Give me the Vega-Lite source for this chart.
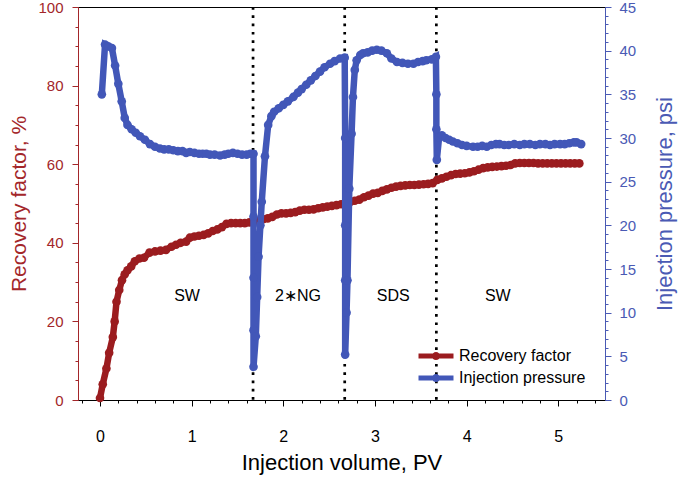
{
  "$schema": "https://vega.github.io/schema/vega-lite/v6.json",
  "autosize": {"type": "none"},
  "padding": {"left": 78, "top": 7, "right": 80, "bottom": 79},
  "width": 527,
  "height": 393,
  "background": "white",
  "config": {
    "font": "Liberation Sans",
    "view": {"stroke": "black", "strokeWidth": 1},
    "axis": {"grid": false, "titleFontWeight": "normal", "labelFont": "Liberation Sans", "titleFont": "Liberation Sans"}
  },
  "datasets": {
    "rf": [
      {"pv": 0.00, "rf": 0.5}, {"pv": 0.03, "rf": 4}, {"pv": 0.07, "rf": 8}, {"pv": 0.10, "rf": 12},
      {"pv": 0.14, "rf": 16}, {"pv": 0.16, "rf": 20}, {"pv": 0.18, "rf": 25}, {"pv": 0.21, "rf": 28},
      {"pv": 0.24, "rf": 30.5}, {"pv": 0.27, "rf": 32}, {"pv": 0.30, "rf": 33}, {"pv": 0.34, "rf": 34},
      {"pv": 0.38, "rf": 35.3}, {"pv": 0.43, "rf": 36}, {"pv": 0.48, "rf": 36.2}, {"pv": 0.54, "rf": 37.5},
      {"pv": 0.60, "rf": 37.8}, {"pv": 0.66, "rf": 38}, {"pv": 0.72, "rf": 38.2}, {"pv": 0.78, "rf": 39},
      {"pv": 0.83, "rf": 39.5}, {"pv": 0.88, "rf": 40}, {"pv": 0.94, "rf": 40.3}, {"pv": 0.98, "rf": 41.3},
      {"pv": 1.03, "rf": 41.6}, {"pv": 1.08, "rf": 41.8}, {"pv": 1.13, "rf": 42}, {"pv": 1.18, "rf": 42.4},
      {"pv": 1.23, "rf": 43}, {"pv": 1.28, "rf": 43.4}, {"pv": 1.33, "rf": 44}, {"pv": 1.38, "rf": 44.8},
      {"pv": 1.43, "rf": 45}, {"pv": 1.48, "rf": 45}, {"pv": 1.53, "rf": 45}, {"pv": 1.58, "rf": 45},
      {"pv": 1.63, "rf": 45.2}, {"pv": 1.68, "rf": 45.5}, {"pv": 1.73, "rf": 45.6}, {"pv": 1.78, "rf": 46},
      {"pv": 1.83, "rf": 46.2}, {"pv": 1.88, "rf": 46.6}, {"pv": 1.93, "rf": 47.2}, {"pv": 1.98, "rf": 47.5},
      {"pv": 2.03, "rf": 47.5}, {"pv": 2.08, "rf": 47.6}, {"pv": 2.13, "rf": 47.8}, {"pv": 2.18, "rf": 48.2},
      {"pv": 2.23, "rf": 48.4}, {"pv": 2.28, "rf": 48.4}, {"pv": 2.33, "rf": 48.5}, {"pv": 2.38, "rf": 48.8},
      {"pv": 2.43, "rf": 49}, {"pv": 2.48, "rf": 49.2}, {"pv": 2.53, "rf": 49.4}, {"pv": 2.58, "rf": 49.6},
      {"pv": 2.63, "rf": 49.8}, {"pv": 2.68, "rf": 50.2}, {"pv": 2.73, "rf": 50.4}, {"pv": 2.78, "rf": 50.7},
      {"pv": 2.83, "rf": 51}, {"pv": 2.88, "rf": 51.6}, {"pv": 2.93, "rf": 52}, {"pv": 2.98, "rf": 52.5},
      {"pv": 3.03, "rf": 52.7}, {"pv": 3.08, "rf": 53.2}, {"pv": 3.13, "rf": 53.6}, {"pv": 3.18, "rf": 54},
      {"pv": 3.23, "rf": 54.3}, {"pv": 3.28, "rf": 54.5}, {"pv": 3.33, "rf": 54.6}, {"pv": 3.38, "rf": 54.7},
      {"pv": 3.43, "rf": 54.7}, {"pv": 3.48, "rf": 54.8}, {"pv": 3.53, "rf": 54.9}, {"pv": 3.58, "rf": 55},
      {"pv": 3.63, "rf": 55.2}, {"pv": 3.68, "rf": 56}, {"pv": 3.73, "rf": 56.4}, {"pv": 3.78, "rf": 56.8},
      {"pv": 3.83, "rf": 57.2}, {"pv": 3.88, "rf": 57.5}, {"pv": 3.93, "rf": 57.6}, {"pv": 3.98, "rf": 57.7},
      {"pv": 4.03, "rf": 57.9}, {"pv": 4.08, "rf": 58.2}, {"pv": 4.13, "rf": 58.6}, {"pv": 4.18, "rf": 59},
      {"pv": 4.23, "rf": 59.2}, {"pv": 4.28, "rf": 59.3}, {"pv": 4.33, "rf": 59.4}, {"pv": 4.38, "rf": 59.5},
      {"pv": 4.43, "rf": 59.6}, {"pv": 4.48, "rf": 59.8}, {"pv": 4.53, "rf": 60.2}, {"pv": 4.58, "rf": 60.3},
      {"pv": 4.63, "rf": 60.3}, {"pv": 4.68, "rf": 60.3}, {"pv": 4.73, "rf": 60.3}, {"pv": 4.78, "rf": 60.2},
      {"pv": 4.83, "rf": 60.2}, {"pv": 4.88, "rf": 60.2}, {"pv": 4.93, "rf": 60.2}, {"pv": 4.98, "rf": 60.2},
      {"pv": 5.03, "rf": 60.2}, {"pv": 5.08, "rf": 60.2}, {"pv": 5.13, "rf": 60.2}, {"pv": 5.18, "rf": 60.2},
      {"pv": 5.23, "rf": 60.2}
    ],
    "ip": [
      {"i": 1, "pv": 0.02, "p": 35.0}, {"i": 2, "pv": 0.055, "p": 40.7}, {"i": 3, "pv": 0.09, "p": 40.5},
      {"i": 4, "pv": 0.13, "p": 40.3}, {"i": 5, "pv": 0.165, "p": 38.3}, {"i": 6, "pv": 0.2, "p": 36.2},
      {"i": 7, "pv": 0.237, "p": 34.2}, {"i": 8, "pv": 0.27, "p": 32.3}, {"i": 9, "pv": 0.3, "p": 31.5},
      {"i": 10, "pv": 0.345, "p": 31.0}, {"i": 11, "pv": 0.39, "p": 30.6}, {"i": 12, "pv": 0.436, "p": 30.2},
      {"i": 13, "pv": 0.49, "p": 29.8}, {"i": 14, "pv": 0.545, "p": 29.3}, {"i": 15, "pv": 0.6, "p": 29.0},
      {"i": 16, "pv": 0.654, "p": 28.8}, {"i": 17, "pv": 0.7, "p": 28.7}, {"i": 18, "pv": 0.75, "p": 28.7},
      {"i": 19, "pv": 0.8, "p": 28.6}, {"i": 20, "pv": 0.85, "p": 28.5}, {"i": 21, "pv": 0.9, "p": 28.5},
      {"i": 22, "pv": 0.94, "p": 28.3}, {"i": 23, "pv": 0.98, "p": 28.4}, {"i": 24, "pv": 1.03, "p": 28.3},
      {"i": 25, "pv": 1.08, "p": 28.2}, {"i": 26, "pv": 1.12, "p": 28.2}, {"i": 27, "pv": 1.16, "p": 28.2},
      {"i": 28, "pv": 1.2, "p": 28.1}, {"i": 29, "pv": 1.25, "p": 28.1}, {"i": 30, "pv": 1.31, "p": 28.0},
      {"i": 31, "pv": 1.36, "p": 28.1}, {"i": 32, "pv": 1.4, "p": 28.2}, {"i": 33, "pv": 1.45, "p": 28.3},
      {"i": 34, "pv": 1.5, "p": 28.2}, {"i": 35, "pv": 1.55, "p": 28.1}, {"i": 36, "pv": 1.6, "p": 28.1},
      {"i": 37, "pv": 1.64, "p": 28.2}, {"i": 38, "pv": 1.675, "p": 28.2}, {"i": 39, "pv": 1.675, "p": 21},
      {"i": 40, "pv": 1.675, "p": 14}, {"i": 41, "pv": 1.675, "p": 8}, {"i": 42, "pv": 1.675, "p": 3.8},
      {"i": 43, "pv": 1.7, "p": 7.3}, {"i": 44, "pv": 1.715, "p": 11.8}, {"i": 45, "pv": 1.73, "p": 16.4},
      {"i": 46, "pv": 1.75, "p": 20.0}, {"i": 47, "pv": 1.765, "p": 22.7}, {"i": 48, "pv": 1.8, "p": 27.9},
      {"i": 49, "pv": 1.835, "p": 31.5}, {"i": 50, "pv": 1.87, "p": 32.5}, {"i": 51, "pv": 1.9, "p": 33.0},
      {"i": 52, "pv": 1.95, "p": 33.4}, {"i": 53, "pv": 2.0, "p": 33.8}, {"i": 54, "pv": 2.05, "p": 34.2},
      {"i": 55, "pv": 2.11, "p": 34.7}, {"i": 56, "pv": 2.16, "p": 35.2}, {"i": 57, "pv": 2.2, "p": 35.6},
      {"i": 58, "pv": 2.25, "p": 36.1}, {"i": 59, "pv": 2.3, "p": 36.6}, {"i": 60, "pv": 2.35, "p": 37.1},
      {"i": 61, "pv": 2.4, "p": 37.6}, {"i": 62, "pv": 2.45, "p": 38.1}, {"i": 63, "pv": 2.51, "p": 38.5},
      {"i": 64, "pv": 2.56, "p": 38.8}, {"i": 65, "pv": 2.62, "p": 39.1}, {"i": 66, "pv": 2.67, "p": 39.2},
      {"i": 67, "pv": 2.675, "p": 30}, {"i": 68, "pv": 2.675, "p": 20}, {"i": 69, "pv": 2.675, "p": 13.7},
      {"i": 70, "pv": 2.675, "p": 5.2}, {"i": 71, "pv": 2.69, "p": 10}, {"i": 72, "pv": 2.7, "p": 13.7},
      {"i": 73, "pv": 2.72, "p": 24.2}, {"i": 74, "pv": 2.745, "p": 30.5}, {"i": 75, "pv": 2.76, "p": 34.7},
      {"i": 76, "pv": 2.78, "p": 37.8}, {"i": 77, "pv": 2.8, "p": 38.9}, {"i": 78, "pv": 2.84, "p": 39.5},
      {"i": 79, "pv": 2.87, "p": 39.7}, {"i": 80, "pv": 2.92, "p": 39.8}, {"i": 81, "pv": 2.97, "p": 40.0},
      {"i": 82, "pv": 3.02, "p": 40.1}, {"i": 83, "pv": 3.07, "p": 40.0}, {"i": 84, "pv": 3.13, "p": 39.7},
      {"i": 85, "pv": 3.18, "p": 39.1}, {"i": 86, "pv": 3.24, "p": 38.7}, {"i": 87, "pv": 3.3, "p": 38.6},
      {"i": 88, "pv": 3.36, "p": 38.5}, {"i": 89, "pv": 3.42, "p": 38.5}, {"i": 90, "pv": 3.47, "p": 38.7},
      {"i": 91, "pv": 3.52, "p": 38.8}, {"i": 92, "pv": 3.56, "p": 38.9}, {"i": 93, "pv": 3.62, "p": 39.0},
      {"i": 94, "pv": 3.665, "p": 39.3}, {"i": 95, "pv": 3.67, "p": 35}, {"i": 96, "pv": 3.67, "p": 31},
      {"i": 97, "pv": 3.675, "p": 27.5}, {"i": 98, "pv": 3.7, "p": 30.1}, {"i": 99, "pv": 3.73, "p": 30.3},
      {"i": 100, "pv": 3.77, "p": 30.0}, {"i": 101, "pv": 3.81, "p": 29.8}, {"i": 102, "pv": 3.85, "p": 29.6},
      {"i": 103, "pv": 3.9, "p": 29.4}, {"i": 104, "pv": 3.95, "p": 29.2}, {"i": 105, "pv": 4.0, "p": 29.1},
      {"i": 106, "pv": 4.07, "p": 29.0}, {"i": 107, "pv": 4.12, "p": 29.0}, {"i": 108, "pv": 4.17, "p": 29.1},
      {"i": 109, "pv": 4.22, "p": 29.0}, {"i": 110, "pv": 4.27, "p": 29.2}, {"i": 111, "pv": 4.32, "p": 29.3},
      {"i": 112, "pv": 4.36, "p": 29.3}, {"i": 113, "pv": 4.41, "p": 29.2}, {"i": 114, "pv": 4.46, "p": 29.2},
      {"i": 115, "pv": 4.52, "p": 29.3}, {"i": 116, "pv": 4.58, "p": 29.2}, {"i": 117, "pv": 4.63, "p": 29.3},
      {"i": 118, "pv": 4.69, "p": 29.3}, {"i": 119, "pv": 4.75, "p": 29.2}, {"i": 120, "pv": 4.8, "p": 29.3},
      {"i": 121, "pv": 4.86, "p": 29.3}, {"i": 122, "pv": 4.91, "p": 29.2}, {"i": 123, "pv": 4.96, "p": 29.3},
      {"i": 124, "pv": 5.02, "p": 29.3}, {"i": 125, "pv": 5.07, "p": 29.3}, {"i": 126, "pv": 5.12, "p": 29.4},
      {"i": 127, "pv": 5.17, "p": 29.5}, {"i": 128, "pv": 5.2, "p": 29.5}, {"i": 129, "pv": 5.25, "p": 29.3}
    ],
    "bounds": [{"pv": 1.67}, {"pv": 2.67}, {"pv": 3.67}],
    "labels": [
      {"pv": 0.95, "y": 26.5, "t": "SW"},
      {"pv": 2.16, "y": 26.5, "t": "2∗NG"},
      {"pv": 3.2, "y": 26.5, "t": "SDS"},
      {"pv": 4.34, "y": 26.5, "t": "SW"}
    ]
  },
  "layer": [
    {
      "data": {"name": "rf"},
      "mark": {"type": "point", "opacity": 0},
      "encoding": {
        "x": {"field": "pv", "type": "quantitative", "scale": {"domain": [-0.24, 5.51], "nice": false, "zero": false},
          "axis": {"orient": "bottom", "values": [-0.2, 0.2, 0.4, 0.6, 0.8, 1.2, 1.4, 1.6, 1.8, 2.2, 2.4, 2.6, 2.8, 3.2, 3.4, 3.6, 3.8, 4.2, 4.4, 4.6, 4.8, 5.2, 5.4], "labels": false, "tickSize": 3, "domain": false, "title": null, "tickColor": "black"}},
        "y": {"field": "rf", "type": "quantitative", "scale": {"domain": [0, 100], "nice": false},
          "axis": {"orient": "left", "values": [5, 10, 15, 25, 30, 35, 45, 50, 55, 65, 70, 75, 85, 90, 95], "labels": false, "tickSize": 3, "domain": false, "title": null, "tickColor": "#a3262a"}}
      }
    },
    {
      "data": {"name": "ip"},
      "mark": {"type": "point", "opacity": 0},
      "encoding": {
        "x": {"field": "pv", "type": "quantitative", "scale": {"domain": [-0.24, 5.51], "nice": false, "zero": false}, "axis": null},
        "y": {"field": "p", "type": "quantitative", "scale": {"domain": [0, 45], "nice": false},
          "axis": {"orient": "right", "values": [1,2,3,4,6,7,8,9,11,12,13,14,16,17,18,19,21,22,23,24,26,27,28,29,31,32,33,34,36,37,38,39,41,42,43,44], "labels": false, "tickSize": 3, "domain": false, "title": null, "tickColor": "#4a5ab4"}}
      }
    },
    {
      "data": {"name": "bounds"},
      "mark": {"type": "rule", "color": "black", "strokeWidth": 2.7, "strokeDash": [2.7, 5.6]},
      "encoding": {
        "x": {"field": "pv", "type": "quantitative", "scale": {"domain": [-0.24, 5.51], "nice": false, "zero": false}, "axis": null}
      }
    },
    {
      "data": {"name": "rf"},
      "mark": {"type": "line", "strokeWidth": 6.5, "point": {"filled": true, "size": 75}},
      "encoding": {
        "x": {"field": "pv", "type": "quantitative", "scale": {"domain": [-0.24, 5.51], "nice": false, "zero": false},
          "axis": {"orient": "bottom", "values": [0, 1, 2, 3, 4, 5], "format": "d", "tickSize": 6, "labelFontSize": 16, "labelPadding": 22, "labelColor": "black", "domainColor": "black", "tickColor": "black",
            "title": "Injection volume, PV", "titleFontSize": 22, "titlePadding": 8, "titleColor": "black"}},
        "y": {"field": "rf", "type": "quantitative", "scale": {"domain": [0, 100], "nice": false},
          "axis": {"orient": "left", "values": [0, 20, 40, 60, 80, 100], "tickSize": 6, "labelFontSize": 15, "labelPadding": 9, "labelColor": "#a3262a", "domainColor": "#a3262a", "tickColor": "#a3262a",
            "title": "Recovery factor, %", "titleFontSize": 21, "titleColor": "#a3262a", "titlePadding": 8}},
        "color": {"datum": "Recovery factor", "type": "nominal",
          "scale": {"domain": ["Recovery factor", "Injection pressure"], "range": ["#9b1c1f", "#4257b8"]},
          "legend": {"orient": "none", "legendX": 350, "legendY": 341, "title": null, "padding": 0,
            "symbolType": "M-3,-0.43L3,-0.43L3,0.43L-3,0.43Z M-0.7,0 A0.7,0.7 0 1 1 0.7,0 A0.7,0.7 0 1 1 -0.7,0 Z",
            "symbolSize": 136, "symbolStrokeWidth": 0, "labelFontSize": 16, "labelOffset": 15, "rowPadding": 6, "labelColor": "black",
            "encode": {"symbols": {"update": {"fill": {"scale": "color", "field": "value"}, "stroke": {"value": "transparent"}}}}}}
      }
    },
    {
      "data": {"name": "ip"},
      "mark": {"type": "line", "strokeWidth": 6.5, "point": {"filled": true, "size": 75}},
      "encoding": {
        "x": {"field": "pv", "type": "quantitative", "scale": {"domain": [-0.24, 5.51], "nice": false, "zero": false}, "axis": null},
        "y": {"field": "p", "type": "quantitative", "scale": {"domain": [0, 45], "nice": false},
          "axis": {"orient": "right", "values": [0, 5, 10, 15, 20, 25, 30, 35, 40, 45], "tickSize": 6, "labelFontSize": 15, "labelPadding": 8, "labelColor": "#4a5ab4", "domainColor": "#4a5ab4", "tickColor": "#4a5ab4",
            "title": "Injection pressure, psi", "titleFontSize": 22, "titleColor": "#4a5ab4", "titlePadding": 19, "titleAngle": -90, "titleBaseline": "top"}},
        "order": {"field": "i", "type": "quantitative"},
        "color": {"datum": "Injection pressure", "type": "nominal"}
      }
    },
    {
      "data": {"name": "labels"},
      "mark": {"type": "text", "fontSize": 16, "color": "black"},
      "encoding": {
        "x": {"field": "pv", "type": "quantitative", "scale": {"domain": [-0.24, 5.51], "nice": false, "zero": false}, "axis": null},
        "y": {"field": "y", "type": "quantitative", "scale": {"domain": [0, 100], "nice": false}, "axis": null},
        "text": {"field": "t"}
      }
    }
  ],
  "resolve": {"scale": {"y": "independent"}, "axis": {"x": "independent", "y": "independent"}}
}
